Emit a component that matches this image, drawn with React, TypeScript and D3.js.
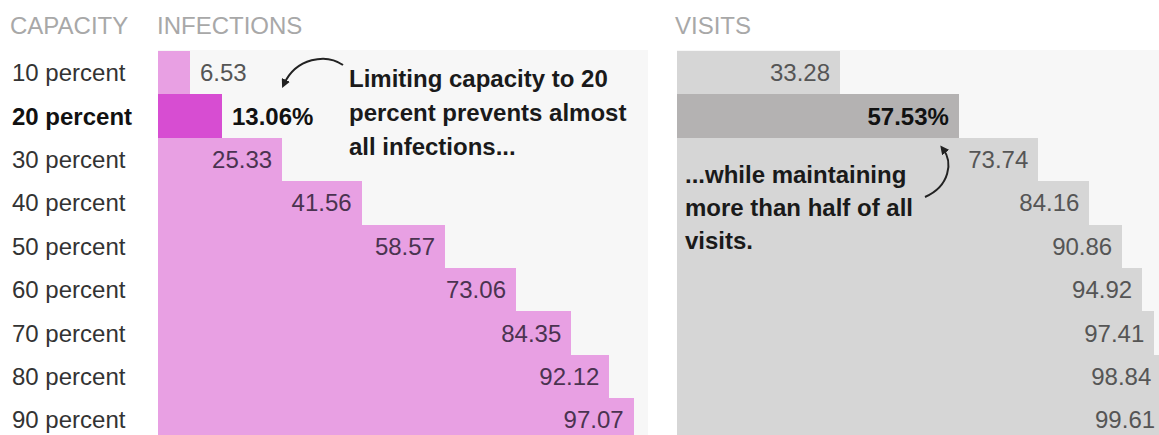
import React from "react";
import * as d3 from "d3";

const capacities = [
  "10 percent", "20 percent", "30 percent", "40 percent", "50 percent",
  "60 percent", "70 percent", "80 percent", "90 percent",
];
const infections = [6.53, 13.06, 25.33, 41.56, 58.57, 73.06, 84.35, 92.12, 97.07];
const visits = [33.28, 57.53, 73.74, 84.16, 90.86, 94.92, 97.41, 98.84, 99.61];
const highlightIndex = 1;

const W = 1159;
const H = 435;
const FONT = "'Liberation Sans', Arial, sans-serif";

const infAnnotation = ["Limiting capacity to 20", "percent prevents almost", "all infections..."];
const visAnnotation = ["...while maintaining", "more than half of all", "visits."];

export default function App() {
  const top = 51;
  const band = 43.4;
  const y = d3.scaleBand<string>().domain(capacities).range([top, top + band * capacities.length]).padding(0);
  const x = d3.scaleLinear().domain([0, 100]).range([0, 490]);
  const infX0 = 158;
  const visX0 = 677;

  const fmt = (v: number, i: number) => d3.format(".2f")(v) + (i === highlightIndex ? "%" : "");

  const panel = (
    x0: number,
    values: number[],
    color: string,
    hiColor: string,
    textColor: string
  ) => (
    <g>
      <rect x={x0} y={top - 1} width={x(100)} height={H} fill="#f7f7f7" shapeRendering="crispEdges" />
      {values.map((v, i) => {
        const c = capacities[i];
        const yy = Math.round(y(c)!);
        const yNext = Math.round(y(c)! + y.bandwidth());
        const w = x(v);
        const hi = i === highlightIndex;
        const inside = w > 100;
        const cy = y(c)! + y.bandwidth() / 2;
        return (
          <g key={c}>
            <rect
              x={x0}
              y={yy}
              width={Math.round(w)}
              height={yNext - yy + 1}
              fill={hi ? hiColor : color}
              shapeRendering="crispEdges"
            />
            <text
              x={inside ? x0 + w - 10 : x0 + w + 10}
              y={cy + 8.5}
              textAnchor={inside ? "end" : "start"}
              fontFamily={FONT}
              fontSize={24}
              fontWeight={hi ? 700 : 400}
              fill={hi ? "#111" : inside ? textColor : "#555"}
            >
              {fmt(v, i)}
            </text>
          </g>
        );
      })}
    </g>
  );

  return (
    <svg
      width={W}
      height={H}
      style={{ position: "absolute", left: 0, top: 0, background: "#fff" }}
    >
      <defs>
        <marker id="ah" viewBox="0 0 10 10" refX="5" refY="5" markerWidth="9" markerHeight="9" orient="auto" markerUnits="userSpaceOnUse">
          <path d="M0,0 L10,5 L0,10 z" fill="#222" />
        </marker>
      </defs>
      {/* headers */}
      <g fontFamily={FONT} fontSize={24} fill="#a8a8a8">
        <text x={10} y={34}>CAPACITY</text>
        <text x={157} y={34}>INFECTIONS</text>
        <text x={675} y={34}>VISITS</text>
      </g>
      {panel(infX0, infections, "#e8a0e3", "#d74dd2", "#4a3350")}
      {panel(visX0, visits, "#d6d6d6", "#b4b2b2", "#555")}
      {/* row labels */}
      {capacities.map((c, i) => (
        <text
          key={c}
          x={12}
          y={y(c)! + y.bandwidth() / 2 + 8.5}
          fontFamily={FONT}
          fontSize={24}
          fontWeight={i === highlightIndex ? 700 : 400}
          fill={i === highlightIndex ? "#111" : "#333"}
        >
          {c}
        </text>
      ))}
      {/* annotations */}
      <g fontFamily={FONT} fontSize={24} fontWeight={700} fill="#1a1a1a">
        {infAnnotation.map((t, i) => (
          <text key={t} x={349} y={87 + i * 34}>{t}</text>
        ))}
        {visAnnotation.map((t, i) => (
          <text key={t} x={685} y={183 + i * 33}>{t}</text>
        ))}
      </g>
      <path d="M343,65 C326,53 296,58 284,84" fill="none" stroke="#222" strokeWidth={2} markerEnd="url(#ah)" />
      <path d="M925,197 C950,186 953,162 943,149" fill="none" stroke="#222" strokeWidth={2} markerEnd="url(#ah)" />
    </svg>
  );
}
